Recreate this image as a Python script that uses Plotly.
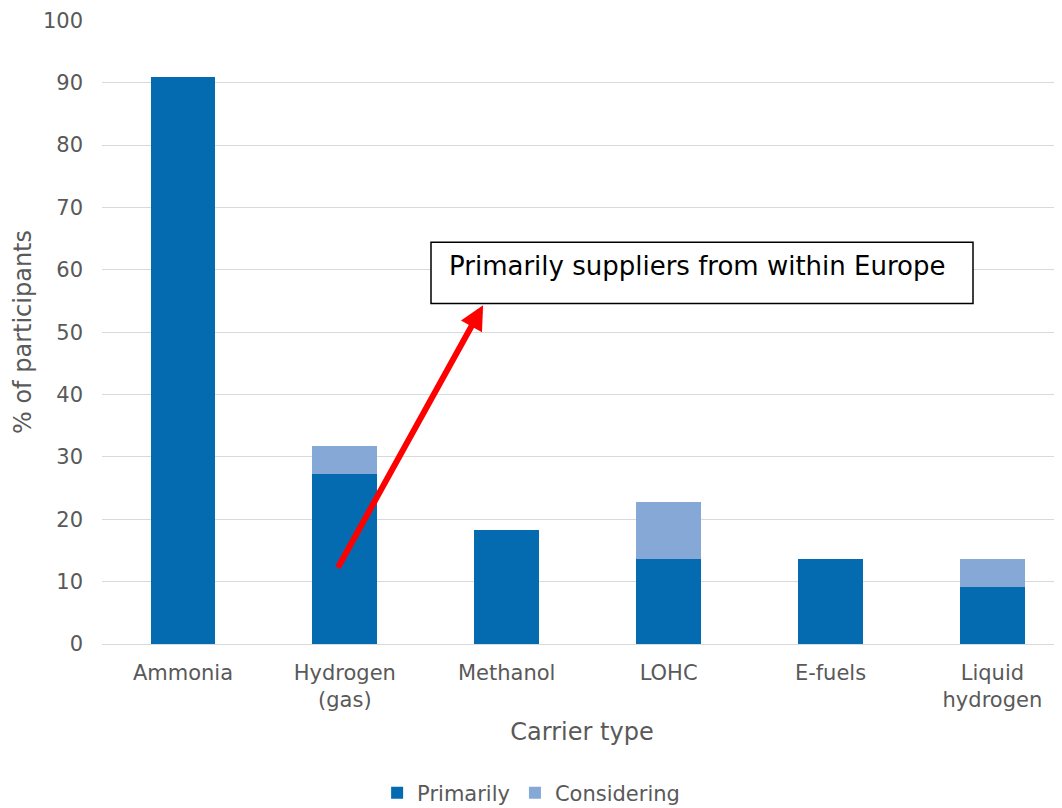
import plotly.graph_objects as go

categories = ["Ammonia", "Hydrogen<br>(gas)", "Methanol", "LOHC", "E-fuels", "Liquid<br>hydrogen"]
primarily = [90.9, 27.3, 18.2, 13.6, 13.6, 9.1]
considering = [0, 4.5, 0, 9.1, 0, 4.5]
y_ticks = [0, 10, 20, 30, 40, 50, 60, 70, 80, 90, 100]

FONT = "Verdana, DejaVu Sans, sans-serif"
GREY = "#595959"

fig = go.Figure()
fig.add_trace(go.Bar(x=list(range(len(categories))), y=primarily, name="Primarily",
                     marker=dict(color="#046bb0", line=dict(width=0)), width=0.4))
fig.add_trace(go.Bar(x=list(range(len(categories))), y=considering, name="Considering",
                     marker=dict(color="#86a8d6", line=dict(width=0)), width=0.4))

fig.update_layout(
    barmode="stack",
    width=1062, height=808,
    margin=dict(l=94, r=8, t=12, b=172, autoexpand=False),
    paper_bgcolor="white", plot_bgcolor="white",
    font=dict(family=FONT, size=21, color=GREY),
    legend=dict(orientation="h", x=0.447, xanchor="center", y=-0.2388, yanchor="middle",
                font=dict(size=21, color=GREY), itemwidth=30, traceorder="normal"),
    xaxis=dict(
        tickmode="array", tickvals=list(range(len(categories))), ticktext=categories,
        range=[-0.5, 5.43], showgrid=False, zeroline=False, showline=False, automargin=False,
        ticks="", ticklabelstandoff=14, tickfont=dict(size=21, color=GREY),
        title=dict(text="Carrier type", font=dict(size=24, color=GREY), standoff=11),
    ),
    yaxis=dict(
        range=[0, 100.05], tickvals=y_ticks, showgrid=True, gridcolor="#d9d9d9", gridwidth=1,
        zeroline=True, zerolinecolor="#d9d9d9", zerolinewidth=1, showline=False, automargin=False,
        ticks="", ticklabelstandoff=18, tickfont=dict(size=21, color=GREY),
        ticklabeloverflow="allow",
        title=dict(text="% of participants", font=dict(size=24, color=GREY), standoff=4),
    ),
)

# Text box
fig.add_shape(type="rect", xref="paper", yref="y", x0=(431 - 102) / 960, x1=(973 - 102) / 960,
              y0=54.6, y1=64.4, line=dict(color="black", width=1.5), fillcolor="white", layer="above")
fig.add_annotation(xref="paper", yref="y", x=(447 - 102) / 960, y=60.6, xanchor="left", yanchor="middle",
                   text="Primarily suppliers from within Europe", showarrow=False,
                   font=dict(family=FONT, size=26, color="black"))

# Red arrow
fig.add_annotation(x=1.854, y=54.3, ax=0.952, ay=12.0, xref="x", yref="y", axref="x", ayref="y",
                   text="", showarrow=True, arrowhead=2, arrowsize=0.8, arrowwidth=6, arrowcolor="#ff0000")

fig.write_html("out.html")
